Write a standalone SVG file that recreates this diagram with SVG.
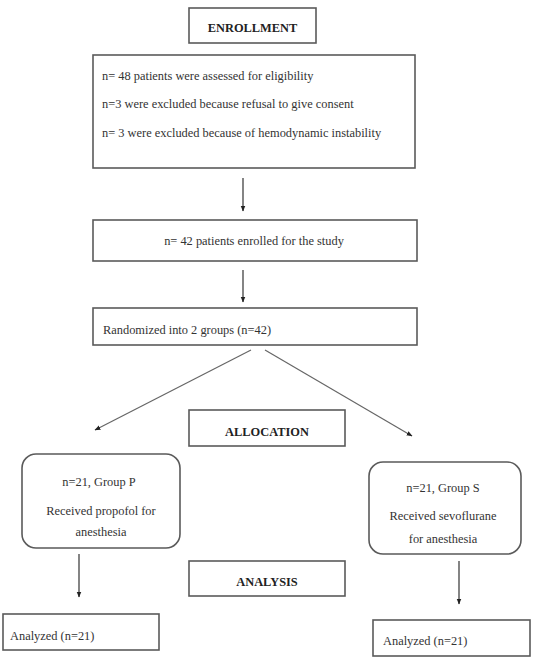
<svg xmlns="http://www.w3.org/2000/svg" width="539" height="658" viewBox="0 0 539 658">
<defs>
<style>
.box{fill:#fff;stroke:#5a5a5a;stroke-width:1.6}
.t{font-family:"Liberation Serif","Times New Roman",serif;font-size:12.4px;fill:#333}
.b{font-family:"Liberation Serif","Times New Roman",serif;font-size:12.4px;font-weight:bold;fill:#222}
.c{text-anchor:middle}
.ln{stroke:#333;stroke-width:1.2;fill:none;marker-end:url(#ah)}
.dg{stroke:#666;stroke-width:1.2;fill:none;marker-end:url(#ah)}
</style>
<marker id="ah" viewBox="0 0 10 10" refX="9" refY="5" markerWidth="6" markerHeight="6" orient="auto" markerUnits="userSpaceOnUse">
<path d="M0,1 L10,5 L0,9 z" fill="#222"/>
</marker>
</defs>
<rect width="539" height="658" fill="#fff"/>
<g id="enrollment">
<rect class="box" x="189" y="8" width="127" height="35"/>
<text class="b c" x="252.5" y="32">ENROLLMENT</text>
</g>
<g id="assessed">
<rect class="box" x="93" y="55" width="322" height="113"/>
<text class="t" x="102" y="80">n= 48 patients were assessed for eligibility</text>
<text class="t" x="102" y="108">n=3 were excluded because refusal to give consent</text>
<text class="t" x="102" y="137">n= 3 were excluded because of hemodynamic instability</text>
</g>
<g id="enrolled">
<rect class="box" x="93" y="220" width="324" height="41"/>
<text class="t c" x="254" y="245">n= 42 patients enrolled for the study</text>
</g>
<g id="randomized">
<rect class="box" x="93" y="308" width="324" height="37"/>
<text class="t" x="103" y="334">Randomized into 2 groups (n=42)</text>
</g>
<g id="allocation">
<rect class="box" x="189" y="410" width="156" height="36"/>
<text class="b c" x="267" y="436">ALLOCATION</text>
</g>
<g id="groupP">
<rect class="box" x="22" y="454" width="158" height="94" rx="14"/>
<text class="t c" x="99" y="486">n=21, Group P</text>
<text class="t c" x="101" y="515">Received propofol for</text>
<text class="t c" x="101" y="536">anesthesia</text>
</g>
<g id="groupS">
<rect class="box" x="369" y="462" width="152" height="92" rx="14"/>
<text class="t c" x="443" y="492">n=21, Group S</text>
<text class="t c" x="443" y="520">Received sevoflurane</text>
<text class="t c" x="443" y="543">for anesthesia</text>
</g>
<g id="analysis">
<rect class="box" x="189" y="561" width="156" height="35"/>
<text class="b c" x="267" y="586">ANALYSIS</text>
</g>
<g id="analyzedP">
<rect class="box" x="3" y="614" width="156" height="36"/>
<text class="t" x="10" y="640">Analyzed (n=21)</text>
</g>
<g id="analyzedS">
<rect class="box" x="373" y="620" width="157" height="36"/>
<text class="t" x="383" y="645">Analyzed (n=21)</text>
</g>
<g id="connectors">
<line class="ln" x1="243" y1="178" x2="243" y2="211"/>
<line class="ln" x1="243" y1="270" x2="243" y2="302"/>
<line class="dg" x1="251" y1="350" x2="95" y2="430"/>
<line class="dg" x1="265" y1="350" x2="412" y2="436"/>
<line class="ln" x1="79" y1="554" x2="79" y2="597"/>
<line class="ln" x1="459" y1="561" x2="459" y2="604"/>
</g>
</svg>
